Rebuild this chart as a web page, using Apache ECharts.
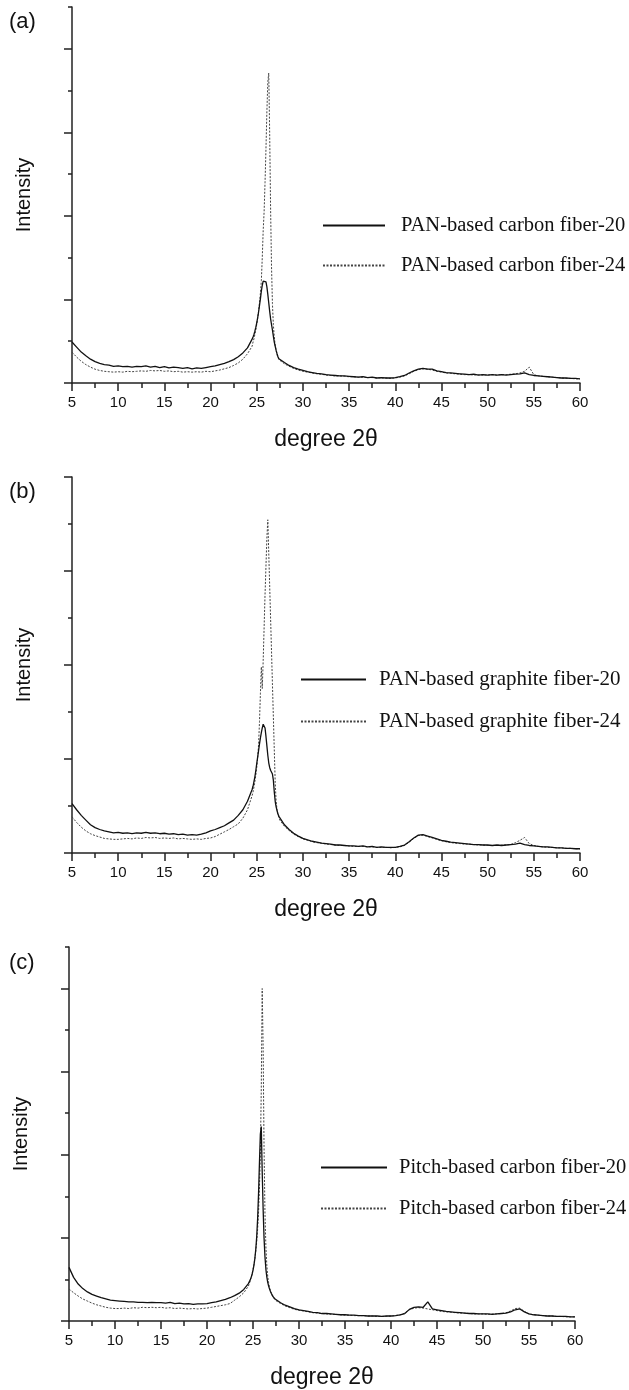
<!DOCTYPE html>
<html>
<head>
<meta charset="utf-8">
<script src="https://cdn.jsdelivr.net/npm/echarts@6/dist/echarts.min.js"></script>
<style>
  html, body { margin: 0; padding: 0; background: #fff; }
  #chart { width: 629px; height: 1390px; }
</style>
</head>
<body>
<div id="chart"></div>
<script>
// 2θ positions shared by all traces: 0.5° steps, 0.1° steps across the (002) peak
const twoTheta = [
  5, 5.5, 6, 6.5, 7, 7.5, 8, 8.5, 9, 9.5, 10, 10.5, 11, 11.5, 12, 12.5, 13, 13.5, 14, 14.5,
  15, 15.5, 16, 16.5, 17, 17.5, 18, 18.5, 19, 19.5, 20, 20.5, 21, 21.5, 22, 22.5, 23, 23.5, 24, 24.5,
  24.6, 24.7, 24.8, 24.9, 25, 25.1, 25.2, 25.3, 25.4, 25.5, 25.6, 25.7, 25.8, 25.9, 26, 26.1, 26.2, 26.3, 26.4, 26.5,
  26.6, 26.7, 26.8, 26.9, 27, 27.1, 27.2, 27.3, 27.4,
  27.5, 28, 28.5, 29, 29.5, 30, 30.5, 31, 31.5, 32, 32.5, 33, 33.5, 34, 34.5, 35, 35.5, 36, 36.5, 37,
  37.5, 38, 38.5, 39, 39.5, 40, 40.5, 41, 41.5, 42, 42.5, 43, 43.5, 44, 44.5, 45, 45.5, 46, 46.5, 47,
  47.5, 48, 48.5, 49, 49.5, 50, 50.5, 51, 51.5, 52, 52.5, 53, 53.5, 54, 54.5, 55, 55.5, 56, 56.5, 57,
  57.5, 58, 58.5, 59, 59.5, 60
];

// (a) PAN-based carbon fiber
const carbon20 = [
  0.98, 0.86, 0.74, 0.65, 0.57, 0.51, 0.47, 0.44, 0.43, 0.40, 0.41, 0.39, 0.40, 0.38, 0.40, 0.39, 0.41, 0.38, 0.40, 0.37,
  0.39, 0.36, 0.38, 0.37, 0.35, 0.37, 0.34, 0.36, 0.35, 0.37, 0.39, 0.41, 0.44, 0.47, 0.51, 0.56, 0.63, 0.72, 0.84, 1.05,
  1.10, 1.16, 1.24, 1.33, 1.44, 1.56, 1.70, 1.86, 2.02, 2.20, 2.34, 2.44, 2.47, 2.40, 2.42, 2.30, 2.12, 1.92, 1.72, 1.54,
  1.40, 1.27, 1.12, 0.98, 0.88, 0.78, 0.70, 0.63, 0.58,
  0.55, 0.49, 0.42, 0.37, 0.33, 0.30, 0.27, 0.25, 0.23, 0.22, 0.20, 0.19, 0.18, 0.17, 0.17, 0.16, 0.15, 0.14, 0.15, 0.13,
  0.14, 0.12, 0.13, 0.12, 0.12, 0.13, 0.15, 0.18, 0.24, 0.29, 0.33, 0.35, 0.33, 0.33, 0.29, 0.27, 0.25, 0.24, 0.23, 0.22,
  0.21, 0.20, 0.21, 0.19, 0.20, 0.19, 0.20, 0.19, 0.20, 0.19, 0.20, 0.21, 0.22, 0.24, 0.20, 0.18, 0.17, 0.16, 0.15, 0.14,
  0.13, 0.12, 0.12, 0.11, 0.11, 0.10
];
const carbon24 = [
  0.74, 0.62, 0.52, 0.44, 0.38, 0.33, 0.30, 0.28, 0.27, 0.26, 0.27, 0.26, 0.28, 0.27, 0.28, 0.29, 0.28, 0.30, 0.29, 0.30,
  0.28, 0.29, 0.27, 0.28, 0.26, 0.27, 0.26, 0.27, 0.26, 0.28, 0.27, 0.29, 0.31, 0.34, 0.37, 0.42, 0.48, 0.57, 0.70, 0.88,
  0.98, 1.06, 1.16, 1.27, 1.40, 1.55, 1.72, 1.92, 2.15, 2.45, 3.00, 3.65, 4.10, 4.80, 5.60, 6.50, 7.20, 7.42, 6.00, 4.20,
  2.80, 1.90, 1.40, 1.10, 0.90, 0.78, 0.68, 0.61, 0.56,
  0.52, 0.46, 0.40, 0.35, 0.31, 0.28, 0.26, 0.24, 0.22, 0.21, 0.19, 0.18, 0.17, 0.17, 0.16, 0.15, 0.15, 0.14, 0.14, 0.13,
  0.13, 0.12, 0.12, 0.12, 0.11, 0.12, 0.14, 0.17, 0.22, 0.28, 0.32, 0.34, 0.33, 0.31, 0.28, 0.26, 0.24, 0.23, 0.22, 0.21,
  0.20, 0.20, 0.19, 0.20, 0.19, 0.19, 0.20, 0.19, 0.20, 0.20, 0.21, 0.22, 0.24, 0.28, 0.38, 0.20, 0.17, 0.16, 0.15, 0.14,
  0.13, 0.12, 0.11, 0.11, 0.10, 0.10
];

// (b) PAN-based graphite fiber
const graphite20 = [
  1.05, 0.92, 0.80, 0.70, 0.60, 0.54, 0.50, 0.47, 0.45, 0.43, 0.44, 0.42, 0.43, 0.41, 0.43, 0.42, 0.44, 0.42, 0.43, 0.41,
  0.42, 0.40, 0.41, 0.39, 0.40, 0.38, 0.39, 0.38, 0.40, 0.43, 0.47, 0.50, 0.54, 0.58, 0.64, 0.70, 0.80, 0.92, 1.10, 1.35,
  1.42, 1.52, 1.62, 1.75, 1.90, 2.04, 2.18, 2.32, 2.45, 2.56, 2.66, 2.74, 2.76, 2.66, 2.48, 2.28, 2.08, 1.92, 1.82, 1.76,
  1.72, 1.68, 1.55, 1.30, 1.10, 0.98, 0.90, 0.83, 0.78,
  0.74, 0.60, 0.50, 0.42, 0.36, 0.31, 0.28, 0.25, 0.23, 0.21, 0.20, 0.19, 0.17, 0.17, 0.16, 0.15, 0.15, 0.14, 0.15, 0.13,
  0.14, 0.12, 0.13, 0.12, 0.12, 0.12, 0.14, 0.17, 0.24, 0.32, 0.38, 0.39, 0.36, 0.33, 0.30, 0.27, 0.25, 0.23, 0.22, 0.21,
  0.20, 0.19, 0.18, 0.18, 0.17, 0.17, 0.16, 0.17, 0.16, 0.17, 0.18, 0.19, 0.21, 0.18, 0.16, 0.15, 0.14, 0.13, 0.13, 0.12,
  0.11, 0.11, 0.10, 0.10, 0.09, 0.09
];
const graphite24 = [
  0.77, 0.65, 0.55, 0.47, 0.41, 0.37, 0.34, 0.31, 0.30, 0.29, 0.29, 0.30, 0.31, 0.30, 0.32, 0.31, 0.33, 0.32, 0.33, 0.31,
  0.32, 0.31, 0.32, 0.30, 0.31, 0.30, 0.29, 0.30, 0.29, 0.31, 0.32, 0.35, 0.40, 0.45, 0.50, 0.56, 0.62, 0.74, 0.92, 1.22,
  1.30, 1.40, 1.52, 1.66, 1.82, 2.02, 2.30, 2.80, 3.40, 3.96, 3.50, 4.10, 4.80, 5.50, 6.10, 6.70, 7.09, 6.40, 5.70, 5.00,
  4.30, 3.60, 2.90, 2.20, 1.50, 1.10, 0.92, 0.82, 0.76,
  0.70, 0.57, 0.48, 0.40, 0.35, 0.30, 0.27, 0.24, 0.22, 0.21, 0.19, 0.18, 0.17, 0.16, 0.16, 0.15, 0.14, 0.14, 0.14, 0.13,
  0.13, 0.12, 0.12, 0.12, 0.11, 0.12, 0.13, 0.16, 0.23, 0.31, 0.37, 0.38, 0.35, 0.32, 0.29, 0.26, 0.24, 0.22, 0.21, 0.20,
  0.19, 0.19, 0.18, 0.17, 0.17, 0.16, 0.16, 0.16, 0.17, 0.17, 0.18, 0.22, 0.27, 0.33, 0.20, 0.16, 0.14, 0.13, 0.12, 0.12,
  0.11, 0.11, 0.10, 0.10, 0.09, 0.09
];

// (c) Pitch-based carbon fiber
const pitch20 = [
  1.29, 1.05, 0.89, 0.78, 0.70, 0.64, 0.60, 0.56, 0.53, 0.50, 0.49, 0.48, 0.47, 0.46, 0.46, 0.45, 0.45, 0.44, 0.45, 0.44,
  0.44, 0.43, 0.45, 0.42, 0.43, 0.41, 0.42, 0.40, 0.41, 0.41, 0.42, 0.44, 0.46, 0.49, 0.52, 0.56, 0.61, 0.67, 0.76, 0.90,
  0.94, 0.99, 1.05, 1.12, 1.22, 1.34, 1.50, 1.72, 2.02, 2.45, 3.05, 3.80, 4.50, 4.68, 3.60, 2.70, 2.00, 1.55, 1.25, 1.06,
  0.93, 0.84, 0.77, 0.71, 0.66, 0.62, 0.58, 0.55, 0.53,
  0.51, 0.44, 0.38, 0.34, 0.30, 0.27, 0.25, 0.23, 0.21, 0.20, 0.18, 0.18, 0.17, 0.16, 0.15, 0.15, 0.14, 0.14, 0.13, 0.13,
  0.12, 0.12, 0.12, 0.11, 0.12, 0.12, 0.13, 0.15, 0.18, 0.28, 0.33, 0.34, 0.33, 0.46, 0.29, 0.27, 0.25, 0.23, 0.22, 0.21,
  0.20, 0.19, 0.18, 0.18, 0.17, 0.17, 0.17, 0.16, 0.17, 0.18, 0.19, 0.22, 0.27, 0.29, 0.22, 0.17, 0.15, 0.14, 0.13, 0.12,
  0.12, 0.11, 0.11, 0.11, 0.10, 0.10
];
const pitch24 = [
  0.77, 0.68, 0.60, 0.53, 0.48, 0.43, 0.39, 0.36, 0.33, 0.31, 0.30, 0.30, 0.31, 0.30, 0.32, 0.31, 0.33, 0.32, 0.33, 0.32,
  0.33, 0.31, 0.32, 0.30, 0.31, 0.30, 0.29, 0.30, 0.29, 0.30, 0.31, 0.33, 0.35, 0.37, 0.39, 0.42, 0.50, 0.58, 0.68, 0.84,
  0.90, 0.97, 1.05, 1.14, 1.24, 1.36, 1.50, 1.68, 1.90, 2.20, 2.60, 3.20, 4.00, 5.60, 8.00, 6.60, 4.20, 2.60, 1.80, 1.35,
  1.08, 0.92, 0.80, 0.72, 0.66, 0.61, 0.57, 0.54, 0.51,
  0.49, 0.42, 0.36, 0.32, 0.28, 0.26, 0.24, 0.22, 0.20, 0.19, 0.18, 0.17, 0.16, 0.16, 0.15, 0.14, 0.14, 0.13, 0.13, 0.13,
  0.12, 0.12, 0.11, 0.11, 0.11, 0.12, 0.13, 0.15, 0.19, 0.27, 0.31, 0.32, 0.31, 0.29, 0.27, 0.25, 0.23, 0.22, 0.21, 0.20,
  0.19, 0.19, 0.18, 0.17, 0.17, 0.17, 0.16, 0.17, 0.17, 0.18, 0.20, 0.24, 0.30, 0.31, 0.23, 0.17, 0.15, 0.14, 0.13, 0.12,
  0.12, 0.11, 0.11, 0.10, 0.10, 0.10
];

const panelLabels = ['(a)', '(b)', '(c)'];
const seriesNames = [
  ['PAN-based carbon fiber-20', 'PAN-based carbon fiber-24'],
  ['PAN-based graphite fiber-20', 'PAN-based graphite fiber-24'],
  ['Pitch-based carbon fiber-20', 'Pitch-based carbon fiber-24']
];
const seriesValues = [[carbon20, carbon24], [graphite20, graphite24], [pitch20, pitch24]];
const yMax = [9, 8, 9];
const xMin = 5, xMax = 60, xStep = 5;

// layout of each panel (pixels)
const layout = [
  {grid: {left: 72, top: 7, width: 508, height: 376}, labelTop: 6,
   legend: {left: 322, top: 215, w: 62, gap: 19, pad: 11, font: 20.5}},
  {grid: {left: 72, top: 477, width: 508, height: 376}, labelTop: 476,
   legend: {left: 300, top: 669, w: 65, gap: 21, pad: 8, font: 21}},
  {grid: {left: 69, top: 947, width: 506, height: 376}, labelTop: 947,
   legend: {left: 320, top: 1157, w: 66, gap: 20, pad: 7, font: 20.5}}
];

const sans = 'Liberation Sans, Arial, sans-serif';
const axisColor = '#222';
const grid = [], xAxis = [], yAxis = [], series = [], legend = [], title = [];

layout.forEach((p, i) => {
    grid.push(p.grid);
    title.push({
        text: panelLabels[i], left: 4, top: p.labelTop,
        textStyle: {fontFamily: sans, fontSize: 22, fontWeight: 'normal', color: '#111'}
    });
    xAxis.push({
        gridIndex: i, type: 'value', min: xMin, max: xMax, interval: xStep,
        name: 'degree 2θ', nameLocation: 'middle', nameGap: 45,
        nameTextStyle: {fontFamily: sans, fontSize: 23, color: '#111'},
        axisLine: {onZero: false, lineStyle: {color: axisColor, width: 1.5}},
        axisTick: {length: 8, lineStyle: {color: axisColor, width: 1.5}},
        minorTick: {show: true, splitNumber: 2, length: 5, lineStyle: {color: axisColor, width: 1.5}},
        axisLabel: {fontFamily: sans, fontSize: 15, color: '#111', margin: 12},
        splitLine: {show: false}
    });
    const even = [], odd = [];
    for (let v = 0; v <= yMax[i]; v++) (v % 2 === 0 ? even : odd).push(v);
    yAxis.push({
        gridIndex: i, type: 'value', position: 'left', min: 0, max: yMax[i],
        name: 'Intensity', nameLocation: 'middle', nameGap: 38,
        nameTextStyle: {fontFamily: sans, fontSize: 20, color: '#111'},
        axisLine: {show: true, lineStyle: {color: axisColor, width: 1.5}},
        axisTick: {show: true, customValues: even, length: 8, lineStyle: {color: axisColor, width: 1.5}},
        axisLabel: {show: false}, splitLine: {show: false}
    });
    yAxis.push({
        gridIndex: i, type: 'value', position: 'left', offset: 0, min: 0, max: yMax[i],
        axisLine: {show: false},
        axisTick: {show: true, customValues: odd, length: 4, lineStyle: {color: axisColor, width: 1.5}},
        axisLabel: {show: false}, splitLine: {show: false}
    });
    seriesValues[i].forEach((vals, k) => {
        series.push({
            type: 'line', name: seriesNames[i][k],
            xAxisIndex: i, yAxisIndex: i * 2,
            data: twoTheta.map((x, j) => [x, vals[j]]),
            symbol: 'none', showSymbol: false,
            z: k === 0 ? 3 : 2,
            itemStyle: {color: '#111'},
            lineStyle: k === 0
                ? {color: '#111', width: 1.3, type: 'solid'}
                : {color: '#444', width: 1, type: [2, 1.5]}
        });
    });
    legend.push({
        orient: 'vertical', left: p.legend.left, top: p.legend.top, padding: 0,
        itemWidth: p.legend.w, itemHeight: 14, itemGap: p.legend.gap,
        selectedMode: false,
        itemStyle: {opacity: 0, borderWidth: 0},
        data: seriesNames[i],
        textStyle: {fontFamily: 'Liberation Serif, Times New Roman, serif', fontSize: p.legend.font, color: '#111',
            padding: [0, 0, 0, p.legend.pad]}
    });
});

const chart = echarts.init(document.getElementById('chart'), null, {renderer: 'canvas'});
chart.setOption({
    animation: false,
    backgroundColor: '#fff',
    title, grid, xAxis, yAxis, legend, series
});
</script>
</body>
</html>
